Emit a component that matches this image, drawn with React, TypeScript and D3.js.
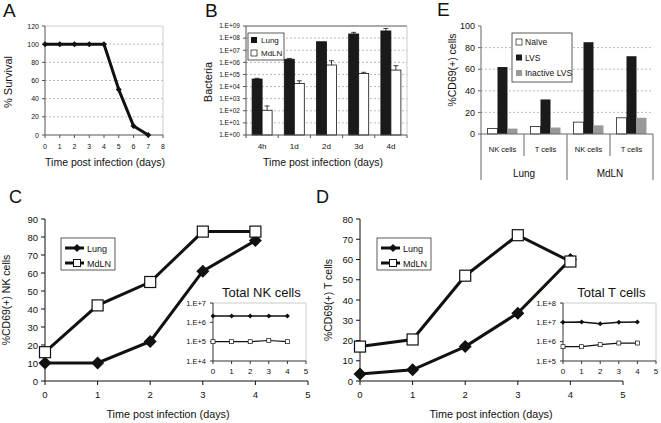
import React from 'react';
import * as d3 from 'd3';

const FONT = '"Liberation Sans", Arial, sans-serif';

// A: survival
const survivalDays = [0, 1, 2, 3, 4, 5, 6, 7];
const survivalPct = [100, 100, 100, 100, 100, 50, 10, 0];
const survivalTicksY = [0, 20, 40, 60, 80, 100, 120];
const survivalTicksX = [0, 1, 2, 3, 4, 5, 6, 7, 8];

// B: bacteria (log)
const bacteriaTimes = ['4h', '1d', '2d', '3d', '4d'];
const bacteriaLung = [4.2e4, 1.8e6, 5e7, 2.2e8, 3.9e8];
const bacteriaLungErr = [4.8e4, 2.1e6, 5e7, 3e8, 6.3e8];
const bacteriaMdln = [1.1e2, 1.8e4, 6e5, 1.2e5, 2.3e5];
const bacteriaMdlnErr = [2.5e2, 3e4, 1.35e6, 1.5e5, 5.3e5];
const bacteriaTicks = [1e0, 1e1, 1e2, 1e3, 1e4, 1e5, 1e6, 1e7, 1e8, 1e9];

// E: CD69 by group
const cellLabels = ['NK cells', 'T cells', 'NK cells', 'T cells'];
const tissueLabels = ['Lung', 'MdLN'];
const naive = [5, 7, 11, 15];
const lvs = [62, 32, 85, 72];
const inactiveLvs = [5, 6, 8, 15];
const eTicks = [0, 20, 40, 60, 80, 100];

// C / D: time courses
const days = [0, 1, 2, 3, 4];
const nkLung = [10, 10, 22, 61, 78];
const nkMdln = [16, 42, 55, 83, 83];
const tLung = [3.5, 5.5, 17, 33.5, 60];
const tMdln = [17, 20.5, 52, 72, 59];
const nkTotalLung = [2.1e6, 2.1e6, 2.1e6, 2.1e6, 2.1e6];
const nkTotalMdln = [1e5, 1e5, 1e5, 1.15e5, 1e5];
const tTotalLung = [1e7, 1.05e7, 8.5e6, 1e7, 1.05e7];
const tTotalMdln = [5.5e5, 5.5e5, 7e5, 8.5e5, 8.5e5];

const expLabel = (v: number, pad = 2) => '1.E+' + String(Math.round(Math.log10(v))).padStart(pad, '0');
const diamond = (cx: number, cy: number, r: number) => `M${cx},${cy - r}L${cx + r},${cy}L${cx},${cy + r}L${cx - r},${cy}Z`;

const PanelA = () => {
  const x = d3.scaleLinear().domain([0, 8]).range([45, 163]);
  const y = d3.scaleLinear().domain([0, 120]).range([135, 26]);
  const line = d3.line<number>().x((_, i) => x(survivalDays[i])).y(d => y(d));
  return (
    <g>
      <text x={3} y={17} fontSize={19}>A</text>
      {survivalTicksY.slice(1, -1).map(t => (
        <line key={t} x1={x(0)} x2={x(8)} y1={y(t)} y2={y(t)} stroke="#bbb" strokeDasharray="2,2" />
      ))}
      <line x1={x(0)} x2={x(8)} y1={y(120)} y2={y(120)} stroke="#ccc" />
      <line x1={x(8)} x2={x(8)} y1={y(120)} y2={y(0)} stroke="#ccc" />
      <line x1={x(0)} x2={x(0)} y1={y(120)} y2={y(0)} stroke="#555" />
      <line x1={x(0)} x2={x(8)} y1={y(0)} y2={y(0)} stroke="#555" />
      {survivalTicksY.map(t => (
        <g key={t}>
          <line x1={x(0) - 3} x2={x(0)} y1={y(t)} y2={y(t)} stroke="#555" />
          <text x={x(0) - 6} y={y(t) + 2.5} fontSize={7} textAnchor="end">{t}</text>
        </g>
      ))}
      {survivalTicksX.map(t => (
        <g key={t}>
          <line x1={x(t)} x2={x(t)} y1={y(0)} y2={y(0) + 3} stroke="#555" />
          <text x={x(t)} y={y(0) + 14} fontSize={7} textAnchor="middle">{t}</text>
        </g>
      ))}
      <path d={line(survivalPct) || ''} fill="none" stroke="#111" strokeWidth={3} strokeLinejoin="round" />
      {survivalPct.map((v, i) => (
        <path key={i} d={diamond(x(survivalDays[i]), y(v), 3)} fill="#111" />
      ))}
      <text x={105} y={166} fontSize={10.5} textAnchor="middle">Time post infection (days)</text>
      <text transform="translate(12,82) rotate(-90)" fontSize={11} textAnchor="middle">% Survival</text>
    </g>
  );
};

const PanelB = () => {
  const x = d3.scaleBand<string>().domain(bacteriaTimes).range([246, 407]);
  const y = d3.scaleLog().domain([1, 1e9]).range([135, 26]);
  const bw = 10;
  const bar = (t: string, v: number, err: number, dx: number, fill: string) => {
    const cx = (x(t) || 0) + x.bandwidth() / 2 + dx;
    return (
      <g key={t + fill}>
        <rect x={cx - bw / 2} y={y(v)} width={bw} height={y(1) - y(v)} fill={fill} stroke="#111" strokeWidth={0.8} />
        {err > v && (
          <g stroke="#111" strokeWidth={0.8}>
            <line x1={cx} x2={cx} y1={y(v)} y2={y(err)} />
            <line x1={cx - 2.5} x2={cx + 2.5} y1={y(err)} y2={y(err)} />
          </g>
        )}
      </g>
    );
  };
  return (
    <g>
      <text x={205} y={17} fontSize={19}>B</text>
      {bacteriaTicks.slice(1, -1).map(t => (
        <line key={t} x1={246} x2={407} y1={y(t)} y2={y(t)} stroke="#bbb" strokeDasharray="2,2" />
      ))}
      <line x1={246} x2={407} y1={y(1e9)} y2={y(1e9)} stroke="#aaa" strokeWidth={2} />
      <line x1={407} x2={407} y1={y(1e9)} y2={y(1)} stroke="#ccc" />
      {bacteriaTimes.map((t, i) => bar(t, bacteriaLung[i], bacteriaLungErr[i], -5, '#1a1a1a'))}
      {bacteriaTimes.map((t, i) => bar(t, bacteriaMdln[i], bacteriaMdlnErr[i], 5, '#fff'))}
      <line x1={246} x2={246} y1={y(1e9)} y2={y(1)} stroke="#555" />
      <line x1={246} x2={407} y1={y(1)} y2={y(1)} stroke="#555" />
      {bacteriaTicks.map(t => (
        <g key={t}>
          <line x1={243} x2={246} y1={y(t)} y2={y(t)} stroke="#555" />
          <text x={240} y={y(t) + 2.3} fontSize={6.5} textAnchor="end">{expLabel(t)}</text>
        </g>
      ))}
      {bacteriaTimes.map(t => (
        <g key={t}>
          <line x1={x(t) || 0} x2={x(t) || 0} y1={y(1)} y2={y(1) + 3} stroke="#555" />
          <text x={(x(t) || 0) + x.bandwidth() / 2} y={149} fontSize={8} textAnchor="middle">{t}</text>
        </g>
      ))}
      <line x1={407} x2={407} y1={y(1)} y2={y(1) + 3} stroke="#555" />
      <rect x={248} y={33} width={36} height={27} fill="#fff" stroke="#333" strokeWidth={0.8} />
      <rect x={251} y={37} width={6} height={6} fill="#111" />
      <text x={261} y={43} fontSize={8}>Lung</text>
      <rect x={251} y={50} width={6} height={6} fill="#fff" stroke="#111" strokeWidth={0.7} />
      <text x={261} y={56} fontSize={8}>MdLN</text>
      <text x={323} y={166} fontSize={10.5} textAnchor="middle">Time post infection (days)</text>
      <text transform="translate(212,82) rotate(-90)" fontSize={11} textAnchor="middle">Bacteria</text>
    </g>
  );
};

const PanelE = () => {
  const groups = d3.range(cellLabels.length);
  const x0 = d3.scaleBand<number>().domain(groups).range([481, 653]);
  const seriesNames = ['Naïve', 'LVS', 'Inactive LVS'];
  const seriesVals = [naive, lvs, inactiveLvs];
  const seriesFill = ['#fff', '#1a1a1a', '#999'];
  const x1 = d3.scaleBand<string>().domain(seriesNames).range([6.5, x0.bandwidth() - 6.5]);
  const y = d3.scaleLinear().domain([0, 100]).range([134, 26]);
  return (
    <g>
      <text x={437} y={16} fontSize={19}>E</text>
      {eTicks.slice(1, -1).map(t => (
        <line key={t} x1={481} x2={653} y1={y(t)} y2={y(t)} stroke="#bbb" strokeDasharray="2,2" />
      ))}
      {groups.map(g => seriesNames.map((s, si) => (
        <rect key={g + s} x={(x0(g) || 0) + (x1(s) || 0)} y={y(seriesVals[si][g])} width={x1.bandwidth()}
          height={y(0) - y(seriesVals[si][g])} fill={seriesFill[si]} stroke={si === 0 ? '#222' : 'none'} strokeWidth={0.8} />
      )))}
      <line x1={481} x2={481} y1={y(100)} y2={180} stroke="#666" />
      <line x1={481} x2={653} y1={y(0)} y2={y(0)} stroke="#666" />
      {groups.map(g => (
        <line key={g} x1={(x0(g) || 0) + x0.bandwidth()} x2={(x0(g) || 0) + x0.bandwidth()} y1={y(0)}
          y2={g % 2 === 0 ? 156 : 180} stroke="#666" />
      ))}
      {eTicks.map(t => (
        <g key={t}>
          <line x1={478} x2={481} y1={y(t)} y2={y(t)} stroke="#666" />
          <text x={475} y={y(t) + 3.2} fontSize={9} textAnchor="end">{t}</text>
        </g>
      ))}
      {groups.map(g => (
        <text key={g} x={(x0(g) || 0) + x0.bandwidth() / 2} y={152} fontSize={7.5} textAnchor="middle">{cellLabels[g]}</text>
      ))}
      {tissueLabels.map((t, i) => (
        <text key={t} x={(x0(i * 2) || 0) + x0.bandwidth()} y={177} fontSize={10} textAnchor="middle">{t}</text>
      ))}
      <rect x={512} y={33} width={60} height={49} fill="#fff" stroke="#333" strokeWidth={0.8} />
      {seriesNames.map((s, i) => (
        <g key={s}>
          <rect x={516} y={39 + i * 15.5} width={6} height={6} fill={seriesFill[i]} stroke={i === 0 ? '#222' : 'none'} strokeWidth={0.7} />
          <text x={525} y={45 + i * 15.5} fontSize={8.5}>{s}</text>
        </g>
      ))}
      <text transform="translate(456,70) rotate(-90)" fontSize={10.5} textAnchor="middle">%CD69(+) cells</text>
    </g>
  );
};

type TimeProps = {
  letter: string; lx: number; x0: number; yMax: number; lung: number[]; mdln: number[];
  yLabel: string; yLabelX: number; xLabelX: number; legX: number; title: string;
  insetX0: number; insetLog: [number, number]; insetLung: number[]; insetMdln: number[];
};

const TimePanel = (p: TimeProps) => {
  const x = d3.scaleLinear().domain([0, 5]).range([p.x0, p.x0 + 263]);
  const y = d3.scaleLinear().domain([0, p.yMax]).range([381, 219]);
  const line = d3.line<number>().x((_, i) => x(days[i])).y(d => y(d));
  const yTicks = d3.range(0, p.yMax + 1, 10);
  const xTicks = [0, 1, 2, 3, 4, 5];
  const ix = d3.scaleLinear().domain([0, 5]).range([p.insetX0, p.insetX0 + 93]);
  const iy = d3.scaleLog().domain(p.insetLog).range([361, 303]);
  const iline = d3.line<number>().x((_, i) => ix(days[i])).y(d => iy(d));
  const decades = d3.range(Math.log10(p.insetLog[0]), Math.log10(p.insetLog[1]) + 1).map(e => Math.pow(10, e));
  const lx = p.legX;
  return (
    <g>
      <text x={p.lx} y={203} fontSize={18}>{p.letter}</text>
      <line x1={x(0)} x2={x(0)} y1={219} y2={381} stroke="#111" />
      <line x1={x(0)} x2={x(5)} y1={381} y2={381} stroke="#111" />
      {yTicks.map(t => (
        <g key={t}>
          <line x1={x(0) - 4} x2={x(0)} y1={y(t)} y2={y(t)} stroke="#111" />
          <text x={x(0) - 7} y={y(t) + 3.5} fontSize={9.5} textAnchor="end">{t}</text>
        </g>
      ))}
      {xTicks.map(t => (
        <g key={t}>
          <line x1={x(t)} x2={x(t)} y1={381} y2={385} stroke="#111" />
          <text x={x(t)} y={398} fontSize={9.5} textAnchor="middle">{t}</text>
        </g>
      ))}
      <path d={line(p.lung) || ''} fill="none" stroke="#111" strokeWidth={3} />
      <path d={line(p.mdln) || ''} fill="none" stroke="#111" strokeWidth={3} />
      {p.lung.map((v, i) => <path key={i} d={diamond(x(days[i]), y(v), 6.5)} fill="#111" />)}
      {p.mdln.map((v, i) => (
        <rect key={i} x={x(days[i]) - 5.5} y={y(v) - 5.5} width={11} height={11} fill="#fff" stroke="#111" strokeWidth={1.2} />
      ))}
      <rect x={lx} y={238} width={54} height={32} fill="#fff" stroke="#333" strokeWidth={0.8} />
      <line x1={lx + 4} x2={lx + 23} y1={248} y2={248} stroke="#111" strokeWidth={3} />
      <path d={diamond(lx + 16, 248, 4)} fill="#111" />
      <text x={lx + 26} y={251.5} fontSize={9}>Lung</text>
      <line x1={lx + 4} x2={lx + 23} y1={263} y2={263} stroke="#111" strokeWidth={3} />
      <rect x={lx + 12.5} y={259.5} width={7} height={7} fill="#fff" stroke="#111" strokeWidth={1} />
      <text x={lx + 26} y={266.5} fontSize={9}>MdLN</text>
      <text x={p.xLabelX} y={418} fontSize={10.8} textAnchor="middle">Time post infection (days)</text>
      <text transform={`translate(${p.yLabelX},300) rotate(-90)`} fontSize={10.5} textAnchor="middle">{p.yLabel}</text>
      {/* inset */}
      <line x1={ix(0)} x2={ix(5)} y1={303} y2={303} stroke="#ccc" />
      <line x1={ix(5)} x2={ix(5)} y1={303} y2={361} stroke="#ccc" />
      <line x1={ix(0)} x2={ix(0)} y1={303} y2={361} stroke="#333" />
      <line x1={ix(0)} x2={ix(5)} y1={361} y2={361} stroke="#333" />
      {decades.map(t => (
        <g key={t}>
          <line x1={ix(0) - 3} x2={ix(0)} y1={iy(t)} y2={iy(t)} stroke="#333" />
          <text x={ix(0) - 7} y={iy(t) + 2.7} fontSize={7.5} textAnchor="end">{expLabel(t, 1)}</text>
        </g>
      ))}
      {xTicks.map(t => (
        <g key={t}>
          <line x1={ix(t)} x2={ix(t)} y1={361} y2={364} stroke="#333" />
          <text x={ix(t)} y={374} fontSize={8} textAnchor="middle">{t}</text>
        </g>
      ))}
      <path d={iline(p.insetLung) || ''} fill="none" stroke="#111" strokeWidth={1.5} />
      <path d={iline(p.insetMdln) || ''} fill="none" stroke="#111" strokeWidth={1.2} />
      {p.insetLung.map((v, i) => <path key={i} d={diamond(ix(days[i]), iy(v), 2.5)} fill="#111" />)}
      {p.insetMdln.map((v, i) => (
        <rect key={i} x={ix(days[i]) - 2} y={iy(v) - 2} width={4} height={4} fill="#fff" stroke="#111" strokeWidth={0.7} />
      ))}
      <text x={ix(2.6)} y={297} fontSize={13} textAnchor="middle">{p.title}</text>
    </g>
  );
};

export default function App() {
  return (
    <svg width={661} height={423} style={{ position: 'absolute', left: 0, top: 0, background: '#fff' }}
      fontFamily={FONT} fill="#111">
      <PanelA />
      <PanelB />
      <PanelE />
      <TimePanel letter="C" lx={9} x0={45} yMax={90} lung={nkLung} mdln={nkMdln} yLabel="%CD69(+) NK cells"
        yLabelX={10} xLabelX={168} legX={61} title="Total NK cells" insetX0={213} insetLog={[1e4, 1e7]}
        insetLung={nkTotalLung} insetMdln={nkTotalMdln} />
      <TimePanel letter="D" lx={316} x0={360} yMax={80} lung={tLung} mdln={tMdln} yLabel="%CD69(+) T cells"
        yLabelX={332} xLabelX={491} legX={377} title="Total T cells" insetX0={563} insetLog={[1e5, 1e8]}
        insetLung={tTotalLung} insetMdln={tTotalMdln} />
    </svg>
  );
}
